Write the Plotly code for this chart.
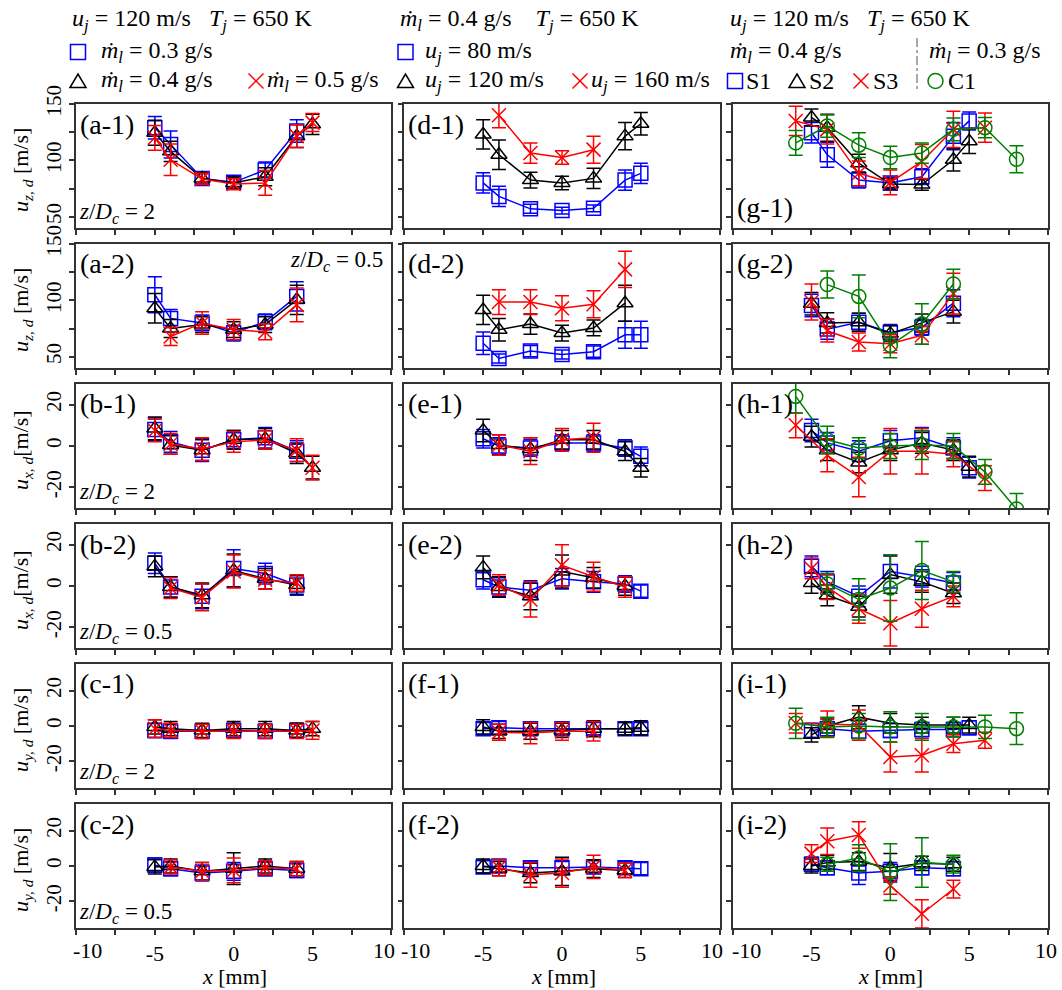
import plotly.graph_objects as go
from plotly.subplots import make_subplots

FIG_W, FIG_H = 1062, 990
ML, MR, MT, MB = 76, 14, 104, 62
FONT = "Liberation Serif, Times New Roman, serif"

# ---------------- measurement stations x [mm] ----------------
X_FULL = [-5, -4, -2, 0, 2, 4, 5]
X_HALF = [-5, -4, -2, 0, 2, 4]
X_INNER = [-4, -2, 0, 2, 4]
X_CORE = [-4, -2, 0, 2]
X_S3_FAR = [-6, -4, -2, 0, 2, 4, 6]
X_C1_FAR = [-6, -4, -2, 0, 2, 4, 6, 8]

# ---------------- (a)-(c): liquid mass flow rate, u_j = 120 m/s ----------------
a1_m03 = [129, 114, 84, 80.5, 91.5, 126];            a1_m03_err = [10, 12, 6, 5, 7, 10]
a1_m04 = [124.5, 108, 84, 80, 85.5, 121.5, 132];     a1_m04_err = [11, 9, 5, 5, 8, 10, 9]
a1_m05 = [120, 100.5, 83.5, 79, 80, 121.5, 133.5];   a1_m05_err = [11, 14, 5, 5, 11, 10, 8]
a2_m03 = [105, 84, 80, 71, 81, 103.5];               a2_m03_err = [16, 8, 7, 7, 7, 13]
a2_m04 = [93, 75, 78.5, 74, 78.5, 100.5];            a2_m04_err = [13, 8, 7, 7, 7, 13]
a2_m05 = [68, 80, 74, 72, 96];                       a2_m05_err = [8, 10, 9, 7, 15]

b1_m03 = [8, 2, -2, 3, 4, -2.5];                     b1_m03_err = [5.5, 5, 5.5, 4.5, 5, 5]
b1_m04 = [8.5, 0.5, -2, 3, 3.5, -3.5, -10.5];        b1_m04_err = [5.5, 4.5, 5, 4.5, 5, 5, 5.5]
b1_m05 = [7.5, 1, -1.5, 2, 3, -2, -10.5];            b1_m05_err = [5.5, 5, 5.5, 5, 4.5, 5.5, 6]
b2_m03 = [11, -0.5, -5, 8.5, 6, 0.5];                b2_m03_err = [5, 5, 6, 9, 5, 5]
b2_m04 = [9.5, -0.5, -4.5, 7.5, 3.5, 0.5];           b2_m04_err = [5, 5, 6, 8, 5, 4.5]
b2_m05 = [-1, -5.5, 7, 3, 1.5];                      b2_m05_err = [5, 6.5, 8, 4.5, 4]

c1_m03 = [-2.5, -3, -3, -2.5, -3, -2.5];             c1_m03_err = [4, 4, 4, 4, 4, 4]
c1_m04 = [-0.5, -1.5, -2.5, -1.5, -1.5, -2.5, -1.5]; c1_m04_err = [4, 4, 4, 4, 4, 4, 4]
c1_m05 = [-1.5, -2.5, -3, -3, -3, -3, -2.5];         c1_m05_err = [5, 4, 4, 4, 4, 4, 5]
c2_m03 = [0.5, -1.5, -4, -3, -1.5, -2.5];            c2_m03_err = [4, 4, 4.5, 5, 4, 4]
c2_m04 = [-0.5, 0, -3, -1.5, 0, -1.5];               c2_m04_err = [4, 4, 5, 9, 4, 4]
c2_m05 = [-0.5, -3, -2.5, -1, -1.5];                 c2_m05_err = [4, 5, 7, 4, 4]

# ---------------- (d)-(f): jet velocity, m_l = 0.4 g/s ----------------
d1_u80 = [80, 68, 57, 55.5, 57.5, 82.5, 88.5];       d1_u80_err = [9, 9, 4, 3, 3, 9, 9]
d1_u120 = [123, 105, 82.5, 80, 84, 121.5, 132.5];    d1_u120_err = [13, 13, 7, 6, 9, 12, 10]
d1_u160 = [140, 106.5, 102.5, 109.5];                d1_u160_err = [11, 9, 6, 12]
d2_u80 = [62, 48.5, 55, 52, 54.5, 69.5, 69.5];       d2_u80_err = [10, 4, 5, 4, 5, 12, 12]
d2_u120 = [91.5, 74, 79, 71, 75.5, 97.5];            d2_u120_err = [13, 10, 9, 7, 7, 16]
d2_u160 = [98.5, 98.5, 93, 96.5, 127.5];             d2_u160_err = [11, 11, 11, 12, 16]

e1_u80 = [3.5, 0, -1, 1.5, 1.5, -1, -5];             e1_u80_err = [4.5, 4, 4, 4, 4, 4, 4.5]
e1_u120 = [7.5, 0.5, -1.5, 3, 3, -2.5, -10.5];       e1_u120_err = [5.5, 5, 5.5, 4.5, 4.5, 4.5, 4.5]
e1_u160 = [0.5, -2.5, 3, 4];                         e1_u160_err = [5, 6.5, 5.5, 7]
e2_u80 = [3, -0.5, -2, 3.5, 2, 1, -2.5];             e2_u80_err = [4.5, 4.5, 4.5, 5, 5, 4, 3]
e2_u120 = [9, -0.5, -5, 7, 4, 0];                    e2_u120_err = [5.5, 5, 6.5, 8, 5, 4.5]
e2_u160 = [0.5, -6.5, 10, 4.5, -0.5];                e2_u160_err = [5, 8.5, 10, 7, 5]

f1_u80 = [-1.5, -1, -1.5, -1.5, -1.5, -1.5, -1.5];   f1_u80_err = [3.5, 3.5, 3.5, 3.5, 3.5, 3.5, 3.5]
f1_u120 = [-0.5, -3, -3, -2.5, -1.5, -1.5, -1];      f1_u120_err = [4, 4, 4.5, 4, 4.5, 3.5, 4]
f1_u160 = [-3.5, -4, -3, -3];                        f1_u160_err = [4.5, 6, 5, 5.5]
f2_u80 = [-0.5, 0, -1, -1, -0.5, -1, -1.5];          f2_u80_err = [3.5, 3.5, 3.5, 3.5, 3.5, 3.5, 3.5]
f2_u120 = [0, -1.5, -4, -3, -1.5, -2.5];             f2_u120_err = [4, 4, 5.5, 8, 5, 4]
f2_u160 = [-1, -5, -4, -0.5, -2.5];                  f2_u160_err = [4.5, 7, 8, 6.5, 4]

# ---------------- (g)-(i): injector configurations ----------------
g1_s1 = [124.5, 105, 82.5, 80, 85.5, 121.5, 135];    g1_s1_err = [9, 11, 7, 5, 7, 12, 8]
g1_s2 = [138, 129, 97.5, 79, 78.5, 100.5, 117];      g1_s2_err = [7.5, 12, 8, 5, 5, 10, 11]
g1_s3 = [135, 127.5, 88.5, 80.5, 99, 127.5, 129];    g1_s3_err = [13, 13, 11, 11, 15, 16, 13]
g1_c1 = [115.5, 130.5, 113.5, 102.5, 106.5, 127.5, 129, 101]
g1_c1_err = [11, 10, 11, 10, 9, 10, 9, 12]
g2_s1 = [95.5, 74.5, 80.5, 71.5, 76, 97.5];          g2_s1_err = [10, 9, 8, 7, 7, 12]
g2_s2 = [97, 80, 80.5, 70.5, 80, 90];                g2_s2_err = [10, 9, 8, 7, 8, 10]
g2_s3 = [98.5, 73, 63, 61.5, 69, 106];               g2_s3_err = [16, 10, 8, 8, 8, 18]
g2_c1 = [114, 103.5, 60, 79, 114.5];                 g2_c1_err = [12, 19, 11, 18, 13]

h1_s1 = [7.5, 1.5, -2.5, 2.5, 4, -1, -10.5];         h1_s1_err = [5.5, 5, 5, 5, 5, 5, 5]
h1_s2 = [4.5, -2, -8, -2, 1.5, -2, -10];             h1_s2_err = [5, 5, 5, 5, 5, 5, 5]
h1_s3 = [10, -4.5, -15, -2.5, -2.5, -4, -15.5];      h1_s3_err = [6, 8, 9.5, 11, 11, 6, 6]
h1_c1 = [24, 3, -1, 0, 0.5, 0, -12.5, -30.5]
h1_c1_err = [8, 6.5, 5, 6, 7, 6, 6, 7.5]
h2_s1 = [9.5, 2, -5, 7, 4.5, 1.5];                   h2_s1_err = [5, 5, 5, 8, 5, 5]
h2_s2 = [1.5, -4.5, -10, 5.5, 2, -3.5];              h2_s2_err = [5, 5, 5, 9, 5, 5]
h2_s3 = [8.5, -0.5, -11, -18, -11, -5];              h2_s3_err = [5, 6, 7, 11, 9, 5]
h2_c1 = [1, -6.5, -1, 7.5, 2];                       h2_c1_err = [5, 10, 16, 14, 5]

i1_s1 = [-2.5, -1.5, -3, -2.5, -2, -2, -1];          i1_s1_err = [4, 4, 4, 4, 4, 4, 4]
i1_s2 = [-5, 0, 5, 1.5, 0.5, 0.5, 0.5];              i1_s2_err = [4, 4, 6.5, 5.5, 4.5, 4.5, 4.5]
i1_s3 = [1.5, 1, 0.5, -17.5, -16.5, -10, -8];        i1_s3_err = [5.5, 7.5, 8.5, 8.5, 9.5, 5, 4.5]
i1_c1 = [1.5, -0.5, 0, -0.5, -0.5, -0.5, -0.5, -1.5]
i1_c1_err = [8.5, 5.5, 7, 8.5, 7.5, 5.5, 6.5, 9]
i2_s1 = [1, -1, -4, -3, -1, -1.5];                   i2_s1_err = [4, 4, 6.5, 5, 4, 4]
i2_s2 = [0, 2, 2.5, -1, 1.5, 1];                     i2_s2_err = [4, 4, 5, 8, 4, 4]
i2_s3 = [7, 14, 17.5, -11, -27, -13];                i2_s3_err = [5, 7.5, 7.5, 5, 8, 5]
i2_c1 = [1, 4.5, -3.5, 2, 1];                        i2_c1_err = [4, 7.5, 16, 14, 5]

# ---------------- styles ----------------
BLUE, BLACK, RED, GREEN = "#0000ff", "#000000", "#ff0000", "#008000"
STYLE = {
    "sq": dict(color=BLUE, symbol="square-open"),
    "tri": dict(color=BLACK, symbol="triangle-up-open"),
    "x": dict(color=RED, symbol="x-thin-open"),
    "o": dict(color=GREEN, symbol="circle-open"),
}

# panel -> (row, col, label, [(x, y, err, style)])
PANELS = [
    (1, 1, "(a-1)", [(X_HALF, a1_m03, a1_m03_err, "sq"), (X_FULL, a1_m04, a1_m04_err, "tri"), (X_FULL, a1_m05, a1_m05_err, "x")]),
    (2, 1, "(a-2)", [(X_HALF, a2_m03, a2_m03_err, "sq"), (X_HALF, a2_m04, a2_m04_err, "tri"), (X_INNER, a2_m05, a2_m05_err, "x")]),
    (3, 1, "(b-1)", [(X_HALF, b1_m03, b1_m03_err, "sq"), (X_FULL, b1_m04, b1_m04_err, "tri"), (X_FULL, b1_m05, b1_m05_err, "x")]),
    (4, 1, "(b-2)", [(X_HALF, b2_m03, b2_m03_err, "sq"), (X_HALF, b2_m04, b2_m04_err, "tri"), (X_INNER, b2_m05, b2_m05_err, "x")]),
    (5, 1, "(c-1)", [(X_HALF, c1_m03, c1_m03_err, "sq"), (X_FULL, c1_m04, c1_m04_err, "tri"), (X_FULL, c1_m05, c1_m05_err, "x")]),
    (6, 1, "(c-2)", [(X_HALF, c2_m03, c2_m03_err, "sq"), (X_HALF, c2_m04, c2_m04_err, "tri"), (X_INNER, c2_m05, c2_m05_err, "x")]),
    (1, 2, "(d-1)", [(X_FULL, d1_u80, d1_u80_err, "sq"), (X_FULL, d1_u120, d1_u120_err, "tri"), (X_CORE, d1_u160, d1_u160_err, "x")]),
    (2, 2, "(d-2)", [(X_FULL, d2_u80, d2_u80_err, "sq"), (X_HALF, d2_u120, d2_u120_err, "tri"), (X_INNER, d2_u160, d2_u160_err, "x")]),
    (3, 2, "(e-1)", [(X_FULL, e1_u80, e1_u80_err, "sq"), (X_FULL, e1_u120, e1_u120_err, "tri"), (X_CORE, e1_u160, e1_u160_err, "x")]),
    (4, 2, "(e-2)", [(X_FULL, e2_u80, e2_u80_err, "sq"), (X_HALF, e2_u120, e2_u120_err, "tri"), (X_INNER, e2_u160, e2_u160_err, "x")]),
    (5, 2, "(f-1)", [(X_FULL, f1_u80, f1_u80_err, "sq"), (X_FULL, f1_u120, f1_u120_err, "tri"), (X_CORE, f1_u160, f1_u160_err, "x")]),
    (6, 2, "(f-2)", [(X_FULL, f2_u80, f2_u80_err, "sq"), (X_HALF, f2_u120, f2_u120_err, "tri"), (X_INNER, f2_u160, f2_u160_err, "x")]),
    (1, 3, "(g-1)", [(X_FULL, g1_s1, g1_s1_err, "sq"), (X_FULL, g1_s2, g1_s2_err, "tri"), (X_S3_FAR, g1_s3, g1_s3_err, "x"), (X_C1_FAR, g1_c1, g1_c1_err, "o")]),
    (2, 3, "(g-2)", [(X_HALF, g2_s1, g2_s1_err, "sq"), (X_HALF, g2_s2, g2_s2_err, "tri"), (X_HALF, g2_s3, g2_s3_err, "x"), (X_INNER, g2_c1, g2_c1_err, "o")]),
    (3, 3, "(h-1)", [(X_FULL, h1_s1, h1_s1_err, "sq"), (X_FULL, h1_s2, h1_s2_err, "tri"), (X_S3_FAR, h1_s3, h1_s3_err, "x"), (X_C1_FAR, h1_c1, h1_c1_err, "o")]),
    (4, 3, "(h-2)", [(X_HALF, h2_s1, h2_s1_err, "sq"), (X_HALF, h2_s2, h2_s2_err, "tri"), (X_HALF, h2_s3, h2_s3_err, "x"), (X_INNER, h2_c1, h2_c1_err, "o")]),
    (5, 3, "(i-1)", [(X_FULL, i1_s1, i1_s1_err, "sq"), (X_FULL, i1_s2, i1_s2_err, "tri"), (X_S3_FAR, i1_s3, i1_s3_err, "x"), (X_C1_FAR, i1_c1, i1_c1_err, "o")]),
    (6, 3, "(i-2)", [(X_HALF, i2_s1, i2_s1_err, "sq"), (X_HALF, i2_s2, i2_s2_err, "tri"), (X_HALF, i2_s3, i2_s3_err, "x"), (X_INNER, i2_c1, i2_c1_err, "o")]),
]

ROW_RANGES = {1: [40, 150], 2: [40, 150], 3: [-30, 30], 4: [-30, 30], 5: [-35, 35], 6: [-35, 35]}
UZ_TICKS = ([50, 75, 100, 125, 150], ["50", "", "100", "", "150"])
UXY_TICKS = ([-20, 0, 20], ["-20", "0", "20"])
# outer labels (-10, 10) are written separately so neighbouring panels do not collide
X_TICKS = ([-10, -7.5, -5, -2.5, 0, 2.5, 5, 7.5, 10], ["", "", "-5", "", "0", "", "5", "", ""])
X_EDGE_LABELS = [("-10", 87), ("10", 384), ("-10", 415), ("10", 712), ("-10", 746), ("10", 1046)]
Y_TITLES = {
    1: "<i>u</i><sub><i>z, d</i></sub> [m/s]", 2: "<i>u</i><sub><i>z, d</i></sub> [m/s]",
    3: "<i>u</i><sub><i>x, d</i></sub>[m/s]", 4: "<i>u</i><sub><i>x, d</i></sub>[m/s]",
    5: "<i>u</i><sub><i>y, d</i></sub> [m/s]", 6: "<i>u</i><sub><i>y, d</i></sub> [m/s]",
}
ZD = {1: "2", 2: "0.5", 3: "2", 4: "0.5", 5: "2", 6: "0.5"}

PLOT_W = FIG_W - ML - MR
PLOT_H = FIG_H - MT - MB

fig = make_subplots(rows=6, cols=3, horizontal_spacing=13 / PLOT_W, vertical_spacing=16 / PLOT_H)

for row, col, label, series in PANELS:
    for xs, ys, errs, key in series:
        st = STYLE[key]
        fig.add_trace(go.Scatter(
            x=xs, y=ys, mode="lines+markers", showlegend=False,
            line=dict(color=st["color"], width=1.5),
            marker=dict(symbol=st["symbol"], size=14, color=st["color"],
                        line=dict(color=st["color"], width=1.5)),
            error_y=dict(type="data", array=errs, visible=True, color=st["color"],
                         thickness=1.5, width=7),
        ), row=row, col=col)

axis_common = dict(showline=True, linecolor="#333333", linewidth=1.5, mirror=True,
                   ticks="outside", ticklen=5, tickwidth=1.5, tickcolor="#333333",
                   showgrid=False, zeroline=False)

for row in range(1, 7):
    for col in range(1, 4):
        fig.update_xaxes(range=[-10, 10], tickvals=X_TICKS[0], ticktext=X_TICKS[1],
                         showticklabels=(row == 6),
                         tickfont=dict(family=FONT, size=22, color="black"),
                         **axis_common, row=row, col=col)
        tv, tt = UZ_TICKS if row <= 2 else UXY_TICKS
        fig.update_yaxes(range=ROW_RANGES[row], tickvals=tv, ticktext=tt, tickangle=-90,
                         showticklabels=(col == 1),
                         tickfont=dict(family=FONT, size=21, color="black"),
                         **axis_common, row=row, col=col)


def px_x(px):
    return (px - ML) / PLOT_W


def px_y(py):
    return (FIG_H - MB - py) / PLOT_H


annotations = []


def note(text, x, y, size=24, xanchor="left", yanchor="middle", **kw):
    annotations.append(dict(text=text, x=x, y=y, xref="paper", yref="paper",
                            xanchor=xanchor, yanchor=yanchor, showarrow=False,
                            font=dict(family=FONT, size=size, color="black"), **kw))


# panel labels and z/Dc tags
for row, col, label, _ in PANELS:
    idx = (row - 1) * 3 + col
    ref = "x domain" if idx == 1 else f"x{idx} domain"
    yref = "y domain" if idx == 1 else f"y{idx} domain"
    bottom = label == "(g-1)"
    annotations.append(dict(text=label, xref=ref, yref=yref, x=0, y=0 if bottom else 1,
                            xanchor="left", yanchor="middle", xshift=2,
                            yshift=20 if bottom else -20, showarrow=False,
                            font=dict(family=FONT, size=28, color="black")))
    if col == 1:
        zd = f"<i>z</i>/<i>D</i><sub><i>c</i></sub> = {ZD[row]}"
        if row == 2:
            annotations.append(dict(text=zd, xref=ref, yref=yref, x=1, y=1, xanchor="right",
                                    yanchor="middle", xshift=-6, yshift=-17, showarrow=False,
                                    font=dict(family=FONT, size=23, color="black")))
        else:
            annotations.append(dict(text=zd, xref=ref, yref=yref, x=0, y=0, xanchor="left",
                                    yanchor="middle", xshift=1, yshift=15, showarrow=False,
                                    font=dict(family=FONT, size=23, color="black")))

# y-axis titles
for row in range(1, 7):
    cy = MT + (row - 1) * 140 + 62 + 4
    note(Y_TITLES[row], px_x(22), px_y(cy), size=22, xanchor="center", textangle=-90)

# x-axis titles and outer tick labels
for cx in (234, 563, 890):
    note("<i>x</i> [mm]", px_x(cx), px_y(977), size=22, xanchor="center")
for txt, cx in X_EDGE_LABELS:
    note(txt, px_x(cx), px_y(950), size=22, xanchor="center")

# header legend
MDOT = "<i>\u1e41</i><sub><i>l</i></sub>"
UJ = "<i>u</i><sub><i>j</i></sub>"
TJ = "<i>T</i><sub><i>j</i></sub>"
SP = "\u00a0"
R1, R2, R3 = 19.5, 52, 81

note(f"{UJ} = 120 m/s{SP}{SP}{SP}{TJ} = 650 K", px_x(70), px_y(R1))
note(f"{MDOT} = 0.3 g/s", px_x(99), px_y(R2))
note(f"{MDOT} = 0.4 g/s", px_x(99), px_y(R3))
note(f"{MDOT} = 0.5 g/s", px_x(265), px_y(R3))

note(f"{MDOT} = 0.4 g/s{SP}{SP}{SP}{SP}{TJ} = 650 K", px_x(398), px_y(R1))
note(f"{UJ} = 80 m/s", px_x(423), px_y(R2))
note(f"{UJ} = 120 m/s", px_x(423), px_y(R3))
note(f"{UJ} = 160 m/s", px_x(589), px_y(R3))

note(f"{UJ} = 120 m/s{SP}{SP}{SP}{TJ} = 650 K", px_x(728), px_y(R1))
note(f"{MDOT} = 0.4 g/s", px_x(728), px_y(R2))
note(f"{MDOT} = 0.3 g/s", px_x(927), px_y(R2))
note("S1", px_x(744), px_y(R3))
note("S2", px_x(807), px_y(R3))
note("S3", px_x(871), px_y(R3))
note("C1", px_x(946), px_y(R3))

shapes = []
H = 7.5


def sym_square(cx, cy):
    shapes.append(dict(type="rect", xref="paper", yref="paper",
                       x0=px_x(cx - H), x1=px_x(cx + H), y0=px_y(cy + H), y1=px_y(cy - H),
                       line=dict(color=BLUE, width=1.5)))


def sym_triangle(cx, cy):
    pts = [(cx - 8, cy + 6.5), (cx + 8, cy + 6.5), (cx, cy - 7)]
    path = "M " + " L ".join(f"{px_x(a):.5f},{px_y(b):.5f}" for a, b in pts) + " Z"
    shapes.append(dict(type="path", xref="paper", yref="paper", path=path,
                       line=dict(color=BLACK, width=1.5)))


def sym_cross(cx, cy):
    for s in (1, -1):
        shapes.append(dict(type="line", xref="paper", yref="paper",
                           x0=px_x(cx - H), x1=px_x(cx + H),
                           y0=px_y(cy - s * H), y1=px_y(cy + s * H),
                           line=dict(color=RED, width=1.5)))


def sym_circle(cx, cy):
    shapes.append(dict(type="circle", xref="paper", yref="paper",
                       x0=px_x(cx - H), x1=px_x(cx + H), y0=px_y(cy + H), y1=px_y(cy - H),
                       line=dict(color=GREEN, width=1.5)))


sym_square(78, R2); sym_triangle(78, R3); sym_cross(256, R3)
sym_square(405.5, R2); sym_triangle(405.5, R3); sym_cross(580, R3)
sym_square(735, R3); sym_triangle(797, R3); sym_cross(861, R3); sym_circle(935.5, R3)
shapes.append(dict(type="line", xref="paper", yref="paper", x0=px_x(917), x1=px_x(917),
                   y0=px_y(38), y1=px_y(90), line=dict(color="#555555", width=1, dash="dashdot")))

fig.update_layout(width=FIG_W, height=FIG_H, margin=dict(l=ML, r=MR, t=MT, b=MB),
                  plot_bgcolor="white", paper_bgcolor="white",
                  font=dict(family=FONT, size=21, color="black"),
                  annotations=annotations, shapes=shapes)

fig.write_html("out.html")
